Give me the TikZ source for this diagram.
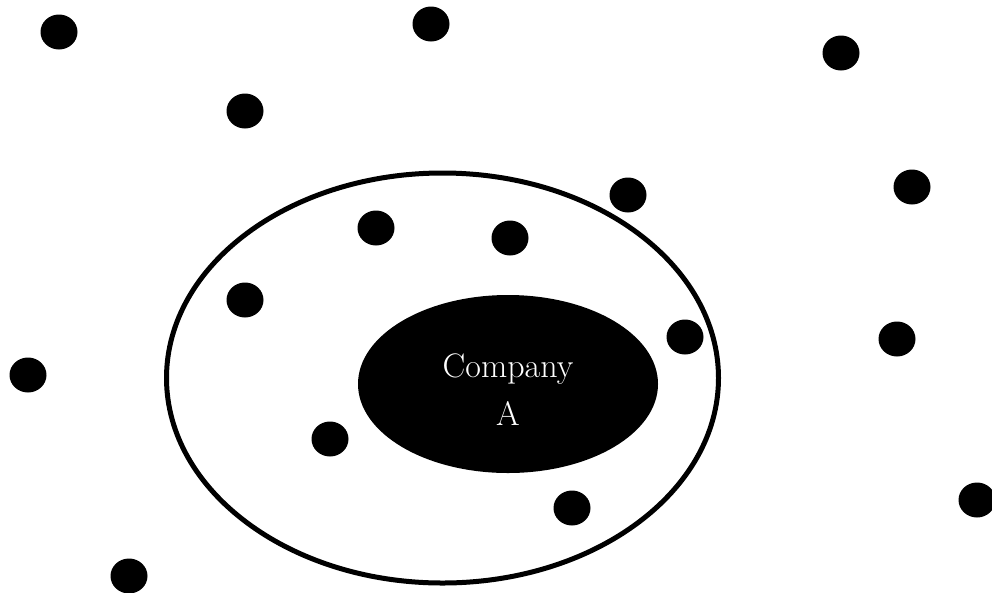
\documentclass[tikz,border=0pt]{standalone}
\usepackage{fontspec}
\usetikzlibrary{shapes.geometric}
\tikzset{
  dot/.style={ellipse, fill=black, inner sep=0pt, minimum width=37pt, minimum height=35pt},
  market/.style={ellipse, draw=black, line width=5pt, inner sep=0pt, minimum width=552pt, minimum height=410pt},
  company/.style={ellipse, fill=black, inner sep=0pt, minimum width=300pt, minimum height=178pt},
  label/.style={text=white, align=center, font=\fontsize{34}{48}\selectfont}
}
\begin{document}
\begin{tikzpicture}[x=1pt,y=-1pt]
\useasboundingbox (0,0) rectangle (992,592);
\clip (0,0) rectangle (992,592);
\node[market] (market) at (442.5,378) {};
\node[company] (compA) at (508,384) {};
\node[label] (lab) at (508,390) {Company\\A};
\node[dot] (d1) at (59,32) {};
\node[dot] (d2) at (431,24) {};
\node[dot] (d3) at (841,53) {};
\node[dot] (d4) at (245,111) {};
\node[dot] (d5) at (628,195) {};
\node[dot] (d6) at (912,187) {};
\node[dot] (d7) at (376,228) {};
\node[dot] (d8) at (510,238) {};
\node[dot] (d9) at (245,300) {};
\node[dot] (d10) at (685,337) {};
\node[dot] (d11) at (897,339) {};
\node[dot] (d12) at (28,375) {};
\node[dot] (d13) at (330,439) {};
\node[dot] (d14) at (572,508) {};
\node[dot] (d15) at (977,500) {};
\node[dot] (d16) at (129,576) {};
\end{tikzpicture}
\end{document}
